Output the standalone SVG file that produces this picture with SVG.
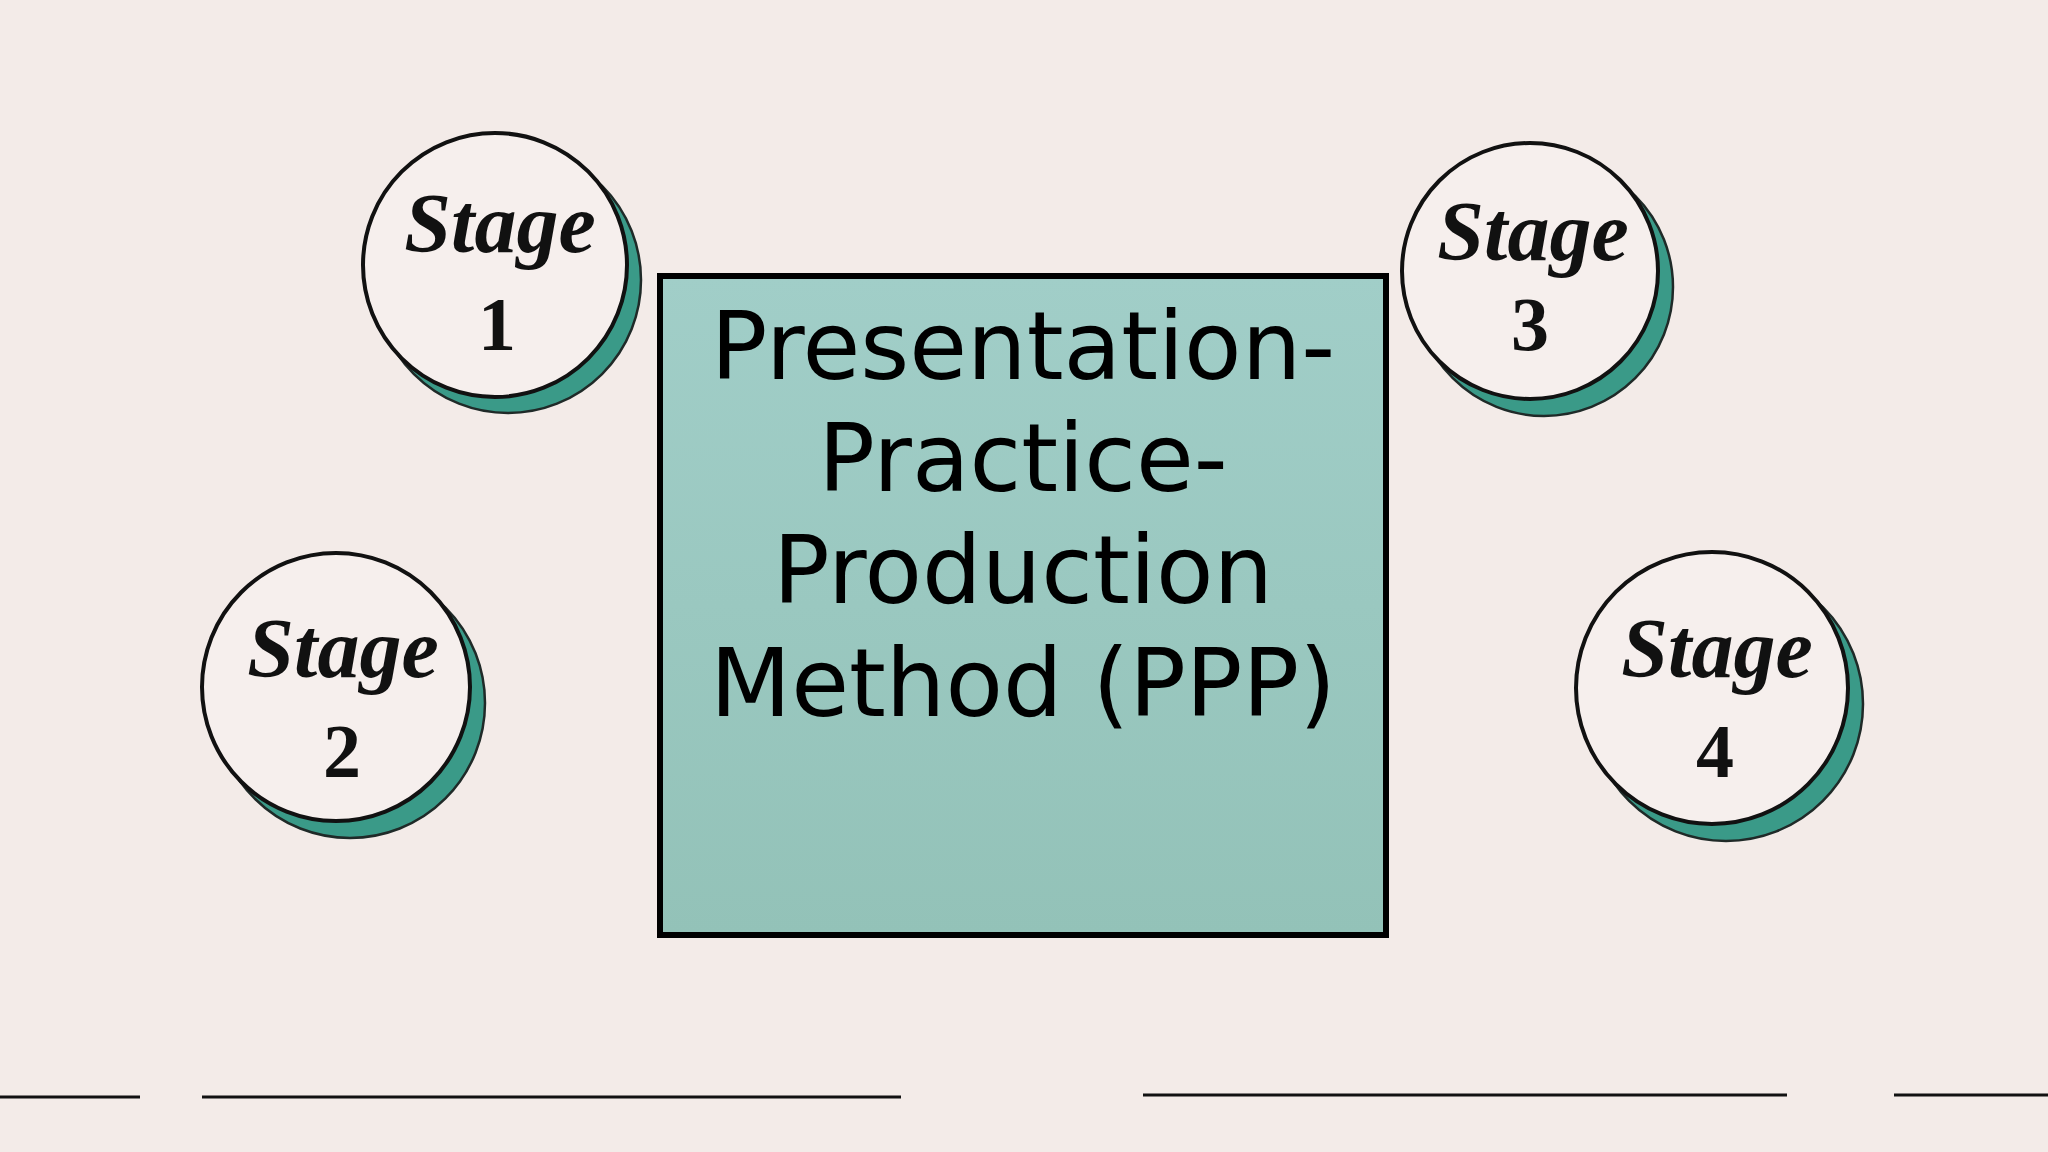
<svg xmlns="http://www.w3.org/2000/svg" width="2048" height="1152" viewBox="0 0 2048 1152">
  <defs>
    <linearGradient id="boxFill" x1="0" y1="0" x2="0" y2="1">
      <stop offset="0" stop-color="#a1cec8"/>
      <stop offset="1" stop-color="#93c2b8"/>
    </linearGradient>
    <style>
      .teal { fill: #3a9a88; stroke: #1f2a28; stroke-width: 2.5; }
      .face { fill: #f6efed; stroke: #111; stroke-width: 4; }
      .stage { font-family: "Liberation Serif", "DejaVu Serif", serif; font-style: italic; font-weight: bold; font-size: 84px; fill: #111; text-anchor: middle; }
      .num { font-family: "Liberation Serif", "DejaVu Serif", serif; font-weight: bold; font-size: 76px; fill: #111; text-anchor: middle; }
      .title { font-family: "DejaVu Sans", "Liberation Sans", sans-serif; font-size: 94px; fill: #000; text-anchor: middle; }
      .rule { stroke: #111; stroke-width: 3; }
    </style>
  </defs>
  <rect x="0" y="0" width="2048" height="1152" fill="#f3ebe8"/>

  <g id="center-box">
    <rect x="660" y="276" width="726" height="659" fill="url(#boxFill)" stroke="#000" stroke-width="6"/>
    <text class="title" x="1023" y="379">Presentation-</text>
    <text class="title" x="1023" y="491">Practice-</text>
    <text class="title" x="1023" y="603">Production</text>
    <text class="title" x="1023" y="716">Method (PPP)</text>
  </g>

  <g id="stage-1">
    <circle class="teal" cx="508" cy="280" r="133"/>
    <circle class="face" cx="495" cy="265" r="132"/>
    <text class="stage" x="500" y="252">Stage</text>
    <text class="num" x="497" y="350">1</text>
  </g>

  <g id="stage-2">
    <circle class="teal" cx="350" cy="703" r="135"/>
    <circle class="face" cx="336" cy="687" r="134"/>
    <text class="stage" x="343" y="677">Stage</text>
    <text class="num" x="342" y="777">2</text>
  </g>

  <g id="stage-3">
    <circle class="teal" cx="1544" cy="287" r="129"/>
    <circle class="face" cx="1530" cy="271" r="128"/>
    <text class="stage" x="1533" y="260">Stage</text>
    <text class="num" x="1530" y="350">3</text>
  </g>

  <g id="stage-4">
    <circle class="teal" cx="1726" cy="704" r="137"/>
    <circle class="face" cx="1712" cy="688" r="136"/>
    <text class="stage" x="1717" y="677">Stage</text>
    <text class="num" x="1715" y="777">4</text>
  </g>

  <g id="connectors">
    <line class="rule" x1="0" y1="1097" x2="140" y2="1097"/>
    <line class="rule" x1="202" y1="1097" x2="901" y2="1097"/>
    <line class="rule" x1="1143" y1="1095" x2="1787" y2="1095"/>
    <line class="rule" x1="1894" y1="1095" x2="2048" y2="1095"/>
  </g>
</svg>
